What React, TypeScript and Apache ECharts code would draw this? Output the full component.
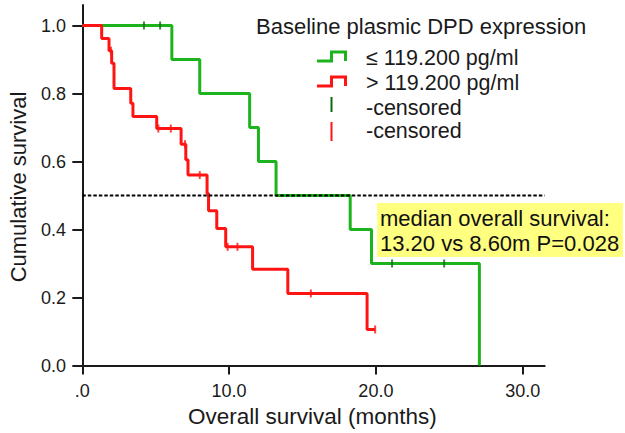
import React, { useEffect, useRef } from "react";
import * as echarts from "echarts";

// Group ≤ 119.200 pg/ml (green): event times (months) and survival after each step
const greenTimes = [0, 6.1, 8.0, 11.4, 12.0, 13.2, 18.25, 19.7, 27.05];
const greenSurv = [1, 0.9, 0.8, 0.7, 0.6, 0.5, 0.4, 0.3, 0];
const greenCensorTimes = [4.2, 5.3, 21.1, 24.65];
const greenCensorSurv = [1, 1, 0.3, 0.3];

// Group > 119.200 pg/ml (red)
const redTimes = [0, 1.32, 1.82, 2.0, 2.16, 3.3, 3.45, 5.07, 6.73, 7.05, 7.2, 8.5, 8.6, 9.16, 9.77, 11.6, 14.0, 19.4, 19.95];
const redSurv = [1, 0.962, 0.926, 0.889, 0.815, 0.771, 0.732, 0.697, 0.651, 0.605, 0.56, 0.506, 0.455, 0.403, 0.349, 0.283, 0.212, 0.106, 0.106];
const redCensorTimes = [1.95, 5.18, 6.03, 7.0, 8.0, 9.9, 10.57, 15.57, 19.95];
const redCensorSurv = [0.926, 0.697, 0.697, 0.651, 0.56, 0.349, 0.349, 0.212, 0.106];

const xTicks = [0, 10, 20, 30];
const yTicks = [0, 0.2, 0.4, 0.6, 0.8, 1.0];
const medianLine = 0.5;

const legendTitle = "Baseline plasmic DPD expression";
const legendLabels = ["≤ 119.200 pg/ml", "> 119.200 pg/ml", "-censored", "-censored"];
const noteLines = ["median overall survival:", "13.20 vs 8.60m P=0.028"];

const GREEN = "#1db31d";
const GREEN_DARK = "#0b6a0b";
const RED = "#ff1414";
const FONT = "'Liberation Sans', Arial, sans-serif";

export default function App() {
  const ref = useRef<HTMLDivElement>(null);
  useEffect(() => {
    if (!ref.current) return;
    const chart = echarts.init(ref.current, null, { renderer: "svg" });
    const zip = (a: number[], b: number[]) => a.map((v, i) => [v, b[i]]);
    const legendY = [58, 83, 108, 131];
    const option: any = {
      animation: false,
      backgroundColor: "#fff",
      textStyle: { fontFamily: FONT },
      grid: { left: 80.1, top: 5.1, width: 464.6, height: 363.8, outerBoundsMode: "none" },
      xAxis: {
        type: "value",
        min: -0.15,
        max: 31.5,
        splitLine: { show: false },
        axisLine: { onZero: true, lineStyle: { color: "#1a1a1a", width: 2 } },
        axisTick: { customValues: xTicks, length: 9, lineStyle: { color: "#1a1a1a", width: 2 } },
        axisLabel: {
          customValues: xTicks,
          margin: 13,
          fontSize: 18,
          color: "#1a1a1a",
          fontFamily: FONT,
          formatter: (v: number) => (v === 0 ? ".0" : v.toFixed(1)),
        },
        name: "Overall survival (months)",
        nameLocation: "middle",
        nameGap: 36,
        nameTextStyle: { fontSize: 22.5, color: "#1a1a1a", fontFamily: FONT },
      },
      yAxis: {
        type: "value",
        min: -0.01,
        max: 1.06,
        splitLine: { show: false },
        axisLine: { onZero: true, lineStyle: { color: "#1a1a1a", width: 2 } },
        axisTick: { customValues: yTicks, length: 10, lineStyle: { color: "#1a1a1a", width: 2 } },
        axisLabel: {
          customValues: yTicks,
          margin: 14,
          fontSize: 18,
          color: "#1a1a1a",
          fontFamily: FONT,
          formatter: (v: number) => v.toFixed(1),
        },
        name: "Cumulative survival",
        nameLocation: "middle",
        nameGap: 51,
        nameTextStyle: { fontSize: 22, color: "#1a1a1a", fontFamily: FONT },
      },
      series: [
        {
          type: "line",
          step: "end",
          data: zip(greenTimes, greenSurv),
          symbol: "none",
          lineStyle: { color: GREEN, width: 3 },
          z: 2,
        },
        {
          type: "line",
          step: "end",
          data: zip(redTimes, redSurv),
          symbol: "none",
          lineStyle: { color: RED, width: 3 },
          z: 3,
        },
        {
          type: "scatter",
          data: zip(greenCensorTimes, greenCensorSurv),
          symbol: "rect",
          symbolSize: [2, 8],
          itemStyle: { color: GREEN_DARK },
          z: 4,
        },
        {
          type: "scatter",
          data: zip(redCensorTimes, redCensorSurv),
          symbol: "rect",
          symbolSize: [2, 8],
          itemStyle: { color: RED },
          z: 4,
        },
        {
          type: "line",
          data: [[0, medianLine], [31.5, medianLine]],
          symbol: "none",
          lineStyle: { color: "#000", width: 2, type: [3.5, 2] },
          z: 5,
        },
      ],
      graphic: [
        {
          type: "text",
          x: 256,
          y: 26,
          style: { text: legendTitle, font: `22px ${FONT}`, fill: "#1a1a1a", verticalAlign: "middle" },
        },
        {
          type: "polyline",
          shape: { points: [[317, 61], [331.5, 61], [331.5, 52], [345.5, 52], [345.5, 61]] },
          style: { stroke: GREEN, lineWidth: 3, fill: "none" },
        },
        {
          type: "polyline",
          shape: { points: [[317, 86], [331.5, 86], [331.5, 77], [345.5, 77], [345.5, 86]] },
          style: { stroke: RED, lineWidth: 3, fill: "none" },
        },
        {
          type: "line",
          shape: { x1: 331.5, y1: 97, x2: 331.5, y2: 112 },
          style: { stroke: GREEN_DARK, lineWidth: 2 },
        },
        {
          type: "line",
          shape: { x1: 331.5, y1: 122, x2: 331.5, y2: 141 },
          style: { stroke: RED, lineWidth: 2 },
        },
        ...legendLabels.map((t, i) => ({
          type: "text",
          x: 366,
          y: legendY[i],
          style: { text: t, font: `21.5px ${FONT}`, fill: "#1a1a1a", verticalAlign: "middle" },
        })),
        {
          type: "rect",
          shape: { x: 377, y: 203, width: 246, height: 54 },
          style: { fill: "#ffff80" },
          z: 10,
        },
        ...noteLines.map((t, i) => ({
          type: "text",
          x: 380,
          y: 218 + i * 25,
          z: 11,
          style: { text: t, font: `22px ${FONT}`, fill: "#111", verticalAlign: "middle" },
        })),
      ],
    };
    chart.setOption(option);
    return () => chart.dispose();
  }, []);
  return (
    <div
      ref={ref}
      style={{ position: "fixed", left: 0, top: 0, width: 625, height: 433, background: "#fff" }}
    />
  );
}
